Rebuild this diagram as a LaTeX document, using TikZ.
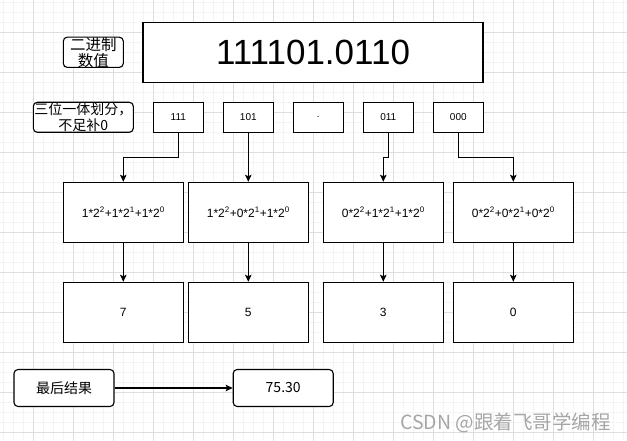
\documentclass[tikz,border=0pt]{standalone}
\usepackage{fontspec}
\setmainfont{Liberation Sans}
\newfontfamily\cjk{Noto Sans CJK SC}
\usepackage{tikz}
\usetikzlibrary{arrows.meta}
\usetikzlibrary{scopes}
\definecolor{gridmajor}{HTML}{DEDEDE}
\definecolor{gridminor}{HTML}{F4F4F4}
\definecolor{markgray}{HTML}{A6A6A6}

\begin{document}
\begin{tikzpicture}[x=1pt,y=-1pt]
\useasboundingbox (0,0) rectangle (627,441);
\fill[white] (0,0) rectangle (627,441);

% background grid
\begin{scope}[line width=0.8pt]
    \foreach \gx in {3,13,...,623} \draw[gridminor] (\gx,0) -- (\gx,441);
    \foreach \gy in {2,12,...,432} \draw[gridminor] (0,\gy) -- (627,\gy);
    \foreach \gx in {33,73,...,593} \draw[gridmajor] (\gx,0) -- (\gx,441);
    \foreach \gy in {32,72,...,432} \draw[gridmajor] (0,\gy) -- (627,\gy);
\end{scope}

\begin{scope}[every node/.style={rectangle,draw,fill=white,line width=1.1pt,inner sep=0pt,align=center}]
    \node[minimum width=340pt,minimum height=60pt,font=\fontsize{35}{40}\selectfont] (num) at (313,52.3) {111101.0110};
    \node[rounded corners=4pt,minimum width=60pt,minimum height=30pt,font=\cjk\fontsize{15.5}{16}\selectfont] (binlbl) at (93.3,52.3) {二进制\\数值};
    \node[rounded corners=4pt,minimum width=100pt,minimum height=30pt,font=\cjk\fontsize{14}{16.5}\selectfont] (grplbl) at (83.3,117.3) {三位一体划分，\\不足补0};
\end{scope}

\begin{scope}[every node/.style={rectangle,draw,fill=white,line width=1.1pt,minimum width=50pt,minimum height=30pt,font=\fontsize{10}{12}\selectfont}]
    \node (sA) at (178.3,117.3) {111};
    \node (sB) at (248.3,117.3) {101};
    \node (sP) at (318.3,117.3) {.};
    \node (sC) at (388.3,117.3) {011};
    \node (sD) at (458.3,117.3) {000};
\end{scope}

\begin{scope}[every node/.style={rectangle,draw,fill=white,line width=1.1pt,minimum width=120pt,minimum height=60pt,font=\fontsize{12}{14}\selectfont}]
    \node (fA) at (123.3,212.3) {1*2\textsuperscript{2}+1*2\textsuperscript{1}+1*2\textsuperscript{0}};
    \node (fB) at (248.3,212.3) {1*2\textsuperscript{2}+0*2\textsuperscript{1}+1*2\textsuperscript{0}};
    \node (fC) at (383.3,212.3) {0*2\textsuperscript{2}+1*2\textsuperscript{1}+1*2\textsuperscript{0}};
    \node (fD) at (513.3,212.3) {0*2\textsuperscript{2}+0*2\textsuperscript{1}+0*2\textsuperscript{0}};
    \node (vA) at (123.3,312.3) {7};
    \node (vB) at (248.3,312.3) {5};
    \node (vC) at (383.3,312.3) {3};
    \node (vD) at (513.3,312.3) {0};
\end{scope}

\begin{scope}[every node/.style={rectangle,draw,fill=white,rounded corners=4pt,line width=1.1pt,minimum width=100pt,minimum height=37pt,font=\cjk\fontsize{14}{16}\selectfont}]
    \node (reslbl) at (64,388) {最后结果};
    \node (res) at (283.2,388) {75.30};
\end{scope}

\begin{scope}[>={Stealth[length=7pt,width=6.5pt,inset=1.5pt]},
              every edge/.style={draw,line width=1.1pt}]
    \draw[->,line width=1.1pt] (sA.south) -- ++(0,25) -| (fA.north);
    \path [->] (sB) edge (fB);
    \draw[->,line width=1.1pt] (sC.south) -- ++(0,25) -| (fC.north);
    \draw[->,line width=1.1pt] (sD.south) -- ++(0,25) -| (fD.north);
    \path [->] (fA) edge (vA);
    \path [->] (fB) edge (vB);
    \path [->] (fC) edge (vC);
    \path [->] (fD) edge (vD);
    \path [->] (reslbl) edge (res);
\end{scope}

\node[text=markgray,font=\cjk\fontsize{19.5}{22}\selectfont,inner sep=0pt] (mark) at (505.5,423) {CSDN @跟着飞哥学编程};
\end{tikzpicture}
\end{document}
